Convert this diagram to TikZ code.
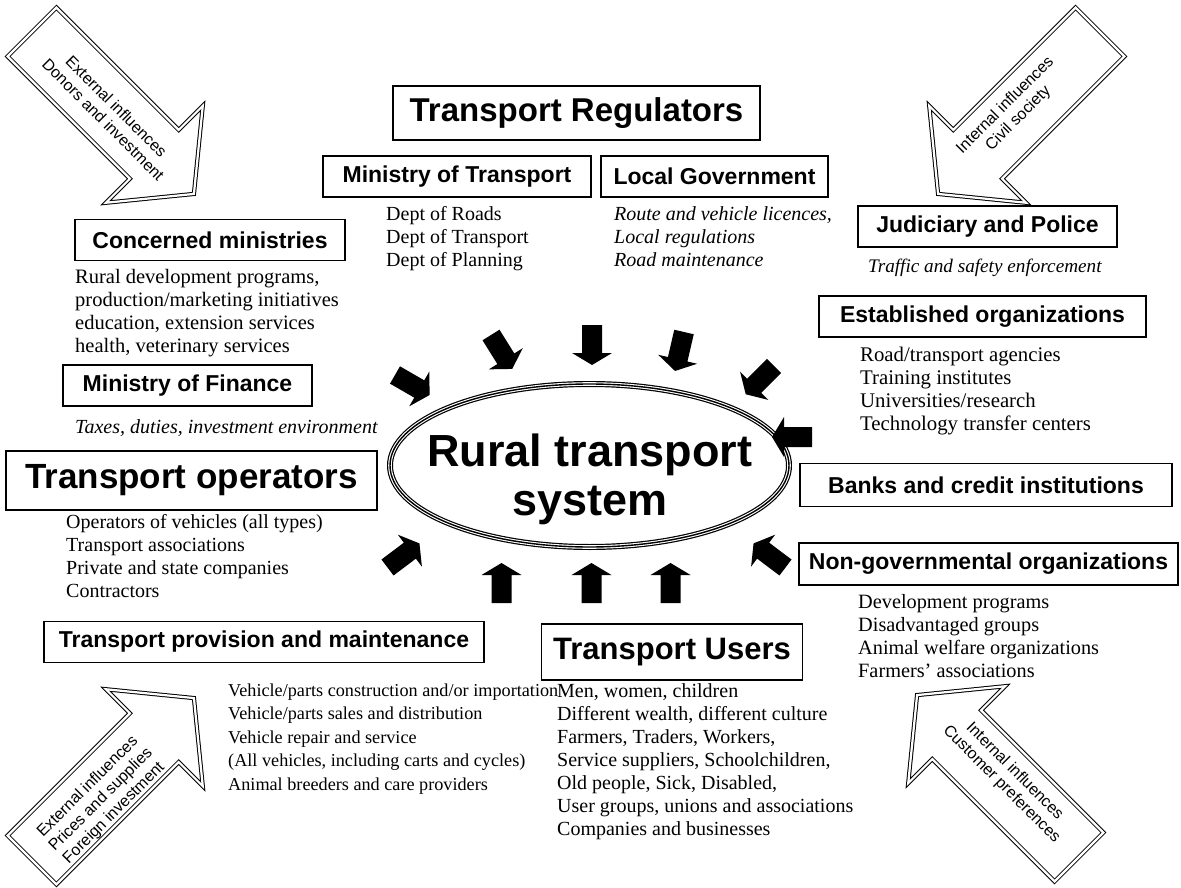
\documentclass[tikz,border=0pt]{standalone}
\usepackage{fontspec}
\setmainfont{Liberation Serif}
\setsansfont{Liberation Sans}
\begin{document}
\begin{tikzpicture}[x=1pt,y=1pt,
  hbox/.style={draw, line width=1.2pt, inner sep=0pt, minimum height=41pt,
    font=\sffamily\bfseries\fontsize{23}{27}\selectfont},
  bigbox/.style={hbox, font=\sffamily\bfseries\fontsize{33}{38}\selectfont},
  body/.style={anchor=base west, align=left, inner sep=0pt,
    font=\fontsize{20}{23}\selectfont},
  ital/.style={body, font=\itshape\fontsize{20}{23}\selectfont},
  cornertext/.style={align=center, inner sep=0pt,
    font=\sffamily\fontsize{16}{18.5}\selectfont},
  blk/.pic={\fill[black] (0,-10) -- (28,-10) -- (28,-20) -- (40,0) -- (28,20) -- (28,10) -- (0,10) -- cycle;},
  bigarr/.pic={\draw[line width=1pt, double=white, double distance=2.2pt, line join=miter]
     (0,-34.5) -- (173,-34.5) -- (173,-68.5) -- (229,0) -- (173,68.5) -- (173,34.5) -- (0,34.5) -- cycle;}
]
\useasboundingbox (0,0) rectangle (1181,-888);

% corner influence arrows
\pic[rotate=-45] at (32,-32) {bigarr};
\pic[rotate=-135] at (1100,-32) {bigarr};
\pic[rotate=45] at (32,-860) {bigarr};
\pic[rotate=135] at (1079,-857) {bigarr};
\node[cornertext, rotate=-45] (tl) at (110,-113) {External influences\\Donors and investment};
\node[cornertext, rotate=45] (tr) at (1012,-112) {Internal influences\\Civil society};
\node[cornertext, rotate=45] (bl) at (101,-800) {External influences\\Prices and supplies\\Foreign investment};
\node[cornertext, rotate=-45] (br) at (1008,-778) {Internal influences\\Customer preferences};

% central ellipse
\draw[line width=6pt] (589.5,-465.5) ellipse [x radius=199.5pt, y radius=81.5pt];
\draw[white, line width=3.6pt] (589.5,-465.5) ellipse [x radius=199.5pt, y radius=81.5pt];
\draw[line width=1.4pt] (589.5,-465.5) ellipse [x radius=199.5pt, y radius=81.5pt];
\node[align=center, inner sep=0pt, font=\sffamily\bfseries\fontsize{45}{49}\selectfont] (sys) at (590,-479) {Rural transport\\system};

% black arrows toward the system
\pic[rotate=-30] at (395,-375) {blk};
\pic[rotate=-58] at (491,-335) {blk};
\pic[rotate=-90] at (592,-325) {blk};
\pic[rotate=-103] at (684,-332) {blk};
\pic[rotate=-135] at (774,-366) {blk};
\pic[rotate=180] at (812,-437) {blk};
\pic[rotate=37] at (387.5,-567.5) {blk};
\pic[rotate=90] at (501.5,-603) {blk};
\pic[rotate=90] at (591.5,-603) {blk};
\pic[rotate=90] at (670.5,-603) {blk};
\pic[rotate=143] at (785.5,-567.5) {blk};

% heading boxes
\node[bigbox, minimum width=367pt, minimum height=54pt] (treg) at (576.5,-113) {Transport Regulators};
\node[hbox, minimum width=268pt] (mot) at (457,-176.5) {Ministry of Transport};
\node[hbox, minimum width=227pt] (lg) at (714.5,-176.5) {Local Government};
\node[hbox, minimum width=270pt] (cm) at (210,-240) {Concerned ministries};
\node[hbox, minimum width=249pt] (mof) at (187.5,-385.5) {Ministry of Finance};
\node[bigbox, minimum width=371pt, minimum height=59pt, font=\sffamily\bfseries\fontsize{35}{40}\selectfont] (tops) at (191.5,-480.5) {Transport operators};
\node[hbox, minimum width=440pt] (tpm) at (264,-642) {Transport provision and maintenance};
\node[bigbox, minimum width=261pt, minimum height=56pt, font=\sffamily\bfseries\fontsize{31}{36}\selectfont] (tu) at (672,-652) {Transport Users};
\node[hbox, minimum width=379pt, minimum height=42pt] (ngo) at (988.5,-564) {Non-governmental organizations};
\node[hbox, minimum width=372pt, minimum height=43pt] (bank) at (986,-485) {Banks and credit institutions};
\node[hbox, minimum width=327pt] (est) at (982.5,-316.5) {Established organizations};
\node[hbox, minimum width=259pt] (jud) at (987.5,-226.5) {Judiciary and Police};

% descriptive texts (anchored at the baseline of their last line)
\node[body] (motl) at (386,-266) {Dept of Roads\\Dept of Transport\\Dept of Planning};
\node[ital] (lgl) at (614,-266) {Route and vehicle licences,\\Local regulations\\Road maintenance};
\node[body, font=\fontsize{20.5}{23}\selectfont] (cml) at (75,-352) {Rural development programs,\\production/marketing initiatives\\education, extension services\\health, veterinary services};
\node[ital] (mofl) at (75,-433) {Taxes, duties, investment environment};
\node[body] (topl) at (66,-597) {Operators of vehicles (all types)\\Transport associations\\Private and state companies\\Contractors};
\node[body, font=\fontsize{18.2}{23.4}\selectfont] (tpml) at (228,-790) {Vehicle/parts construction and/or importation\\Vehicle/parts sales and distribution\\Vehicle repair and service\\(All vehicles, including carts and cycles)\\Animal breeders and care providers};
\node[body] (tul) at (557,-835) {Men, women, children\\Different wealth, different culture\\Farmers, Traders, Workers,\\Service suppliers, Schoolchildren,\\Old people, Sick, Disabled,\\User groups, unions and associations\\Companies and businesses};
\node[body, font=\fontsize{20.3}{23}\selectfont] (ngol) at (858,-677) {Development programs\\Disadvantaged groups\\Animal welfare organizations\\Farmers' associations};
\node[body, font=\fontsize{20.8}{23}\selectfont] (estl) at (860,-430) {Road/transport agencies\\Training institutes\\Universities/research\\Technology transfer centers};
\node[ital, font=\itshape\fontsize{19.2}{23}\selectfont] (judl) at (868,-272) {Traffic and safety enforcement};
\end{tikzpicture}
\end{document}
